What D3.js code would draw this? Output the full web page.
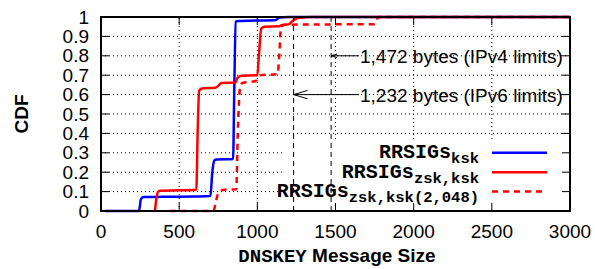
<!DOCTYPE html>
<html lang="en">
<head>
    <meta charset="UTF-8">
    <title>DNSKEY Message Size CDF</title>
    <script src="https://d3js.org/d3.v7.min.js"></script>
    <style>
        body { margin: 0; background: white; }
        svg { display: block; }
        .tick-label { font-family: "Liberation Sans", Arial, sans-serif; font-size: 19px; fill: black; }
        .mono { font-family: "Liberation Mono", "Courier New", monospace; font-weight: bold; }
        .grid { stroke: black; stroke-width: 1; stroke-dasharray: 1,3; }
    </style>
</head>
<body>
    <svg id="chart" width="595" height="269"></svg>

    <script>
        // x tick values and y tick values
        const xTicks = [0, 500, 1000, 1500, 2000, 2500, 3000];
        const yTicks = [0, 0.1, 0.2, 0.3, 0.4, 0.5, 0.6, 0.7, 0.8, 0.9, 1];

        // RRSIGs ksk  [size, cdf]
        const kskSeries = [
            [25, 0], [243, 0], [255, 0.06], [270, 0.072], [400, 0.073], [600, 0.075], [700, 0.077],
            [712, 0.2], [725, 0.26], [740, 0.265], [845, 0.268], [852, 0.6], [862, 0.975], [875, 0.98],
            [1000, 0.982], [1120, 0.985], [1140, 0.998], [1200, 1], [3000, 1]
        ];
        // RRSIGs zsk,ksk
        const zskKskSeries = [
            [345, 0], [352, 0.05], [365, 0.1], [380, 0.105], [500, 0.107], [610, 0.11], [618, 0.4],
            [628, 0.62], [645, 0.632], [730, 0.635], [750, 0.645], [770, 0.66], [860, 0.662],
            [872, 0.685], [900, 0.697], [1000, 0.7], [1010, 0.8], [1025, 0.94], [1045, 0.95],
            [1140, 0.952], [1155, 0.958], [1200, 0.962], [1225, 0.98], [1260, 0.995], [1350, 1], [3000, 1]
        ];
        // RRSIGs zsk,ksk(2,048)
        const zsk2048Series = [
            [440, 0], [720, 0], [735, 0.05], [755, 0.1], [790, 0.11], [865, 0.112], [875, 0.4],
            [890, 0.64], [905, 0.66], [990, 0.67], [1005, 0.69], [1020, 0.7], [1130, 0.705],
            [1140, 0.8], [1152, 0.95], [1175, 0.96], [1500, 0.962], [1750, 0.963], [1775, 1], [3000, 1]
        ];

        // annotation limits
        const limits = [1232, 1472];

        const svg = d3.select("#chart");
        const pLeft = 101, pRight = 570, pTop = 17, pBottom = 211;

        const x = d3.scaleLinear().domain([0, 3000]).range([pLeft, pRight]);
        const y = d3.scaleLinear().domain([0, 1]).range([pBottom, pTop]);

        // grid
        svg.append("g").selectAll("line").data(xTicks.slice(1, -1)).join("line")
            .attr("class", "grid")
            .attr("x1", d => x(d)).attr("x2", d => x(d))
            .attr("y1", pBottom).attr("y2", pTop);
        svg.append("g").selectAll("line").data(yTicks.slice(1, -1)).join("line")
            .attr("class", "grid")
            .attr("x1", pLeft).attr("x2", pRight)
            .attr("y1", d => y(d)).attr("y2", d => y(d));

        // curves
        const line = d3.line().x(d => x(d[0])).y(d => y(d[1])).curve(d3.curveMonotoneX);
        const series = [
            { data: kskSeries, color: "#0000ff", dash: null },
            { data: zskKskSeries, color: "#ff0000", dash: null },
            { data: zsk2048Series, color: "#ff0000", dash: "6,5" }
        ];
        series.forEach(s => {
            svg.append("path")
                .attr("d", line(s.data))
                .attr("fill", "none")
                .attr("stroke", s.color)
                .attr("stroke-width", 2.5)
                .attr("stroke-dasharray", s.dash);
        });

        // legend box
        svg.append("rect")
            .attr("x", 282).attr("y", 142)
            .attr("width", 286).attr("height", 67)
            .attr("fill", "white");

        const legendRows = [
            { sub: "ksk", y: 0.3 },
            { sub: "zsk,ksk", y: 0.2 },
            { sub: "zsk,ksk(2,048)", y: 0.1 }
        ];
        legendRows.forEach((r, i) => {
            const ly = y(r.y);
            const t = svg.append("text")
                .attr("class", "mono")
                .attr("x", 479).attr("y", ly + 5.5)
                .attr("text-anchor", "end");
            t.append("tspan").attr("font-size", 20).text("RRSIGs");
            t.append("tspan").attr("font-size", 15.5).attr("dy", 5).text(r.sub);
            svg.append("line")
                .attr("x1", 492).attr("x2", 547)
                .attr("y1", ly).attr("y2", ly)
                .attr("stroke", series[i].color)
                .attr("stroke-width", 2.5)
                .attr("stroke-dasharray", series[i].dash);
        });

        // limit lines
        svg.append("g").selectAll("line").data(limits).join("line")
            .attr("x1", d => x(d)).attr("x2", d => x(d))
            .attr("y1", pBottom).attr("y2", pTop)
            .attr("stroke", "black").attr("stroke-width", 1)
            .attr("stroke-dasharray", "5,4");

        // annotations
        const notes = [
            { text: "1,472 bytes (IPv4 limits)", at: 1472, y: 0.8, head: 6 },
            { text: "1,232 bytes (IPv6 limits)", at: 1232, y: 0.6, head: 14 }
        ];
        notes.forEach(n => {
            const yy = y(n.y), tx = x(n.at);
            svg.append("line")
                .attr("x1", 359).attr("x2", tx)
                .attr("y1", yy).attr("y2", yy)
                .attr("stroke", "black").attr("stroke-width", 1);
            svg.append("path")
                .attr("d", `M${tx + n.head},${yy - n.head * 0.3}L${tx},${yy}L${tx + n.head},${yy + n.head * 0.3}`)
                .attr("fill", "none").attr("stroke", "black").attr("stroke-width", 1);
            svg.append("text")
                .attr("class", "tick-label")
                .attr("x", 360).attr("y", yy + 7)
                .attr("font-size", 20)
                .text(n.text);
        });

        // ticks (inward, mirrored)
        const tl = 8;
        xTicks.forEach(d => {
            svg.append("line").attr("x1", x(d)).attr("x2", x(d)).attr("y1", pBottom).attr("y2", pBottom - tl).attr("stroke", "black");
            svg.append("line").attr("x1", x(d)).attr("x2", x(d)).attr("y1", pTop).attr("y2", pTop + tl).attr("stroke", "black");
        });
        yTicks.forEach(d => {
            svg.append("line").attr("x1", pLeft).attr("x2", pLeft + tl).attr("y1", y(d)).attr("y2", y(d)).attr("stroke", "black");
            svg.append("line").attr("x1", pRight).attr("x2", pRight - tl).attr("y1", y(d)).attr("y2", y(d)).attr("stroke", "black");
        });

        // border
        svg.append("rect")
            .attr("x", pLeft).attr("y", pTop)
            .attr("width", pRight - pLeft).attr("height", pBottom - pTop)
            .attr("fill", "none").attr("stroke", "black").attr("stroke-width", 2);

        // tick labels
        svg.append("g").selectAll("text").data(xTicks).join("text")
            .attr("class", "tick-label")
            .attr("x", d => x(d)).attr("y", 238)
            .attr("text-anchor", "middle")
            .text(d => d);
        svg.append("g").selectAll("text").data(yTicks).join("text")
            .attr("class", "tick-label")
            .attr("x", 89).attr("y", d => y(d) + 6.5)
            .attr("text-anchor", "end")
            .text(d => d);

        // axis titles
        svg.append("text")
            .attr("class", "tick-label")
            .attr("transform", "translate(28,114) rotate(-90)")
            .attr("text-anchor", "middle")
            .attr("font-weight", "bold")
            .text("CDF");
        const xt = svg.append("text")
            .attr("class", "tick-label")
            .attr("x", 337).attr("y", 262)
            .attr("text-anchor", "middle")
            .attr("font-size", 20)
            .attr("font-weight", "bold");
        xt.append("tspan").attr("class", "mono").attr("font-size", 19).text("DNSKEY");
        xt.append("tspan").text(" Message Size");
    </script>
</body>
</html>
